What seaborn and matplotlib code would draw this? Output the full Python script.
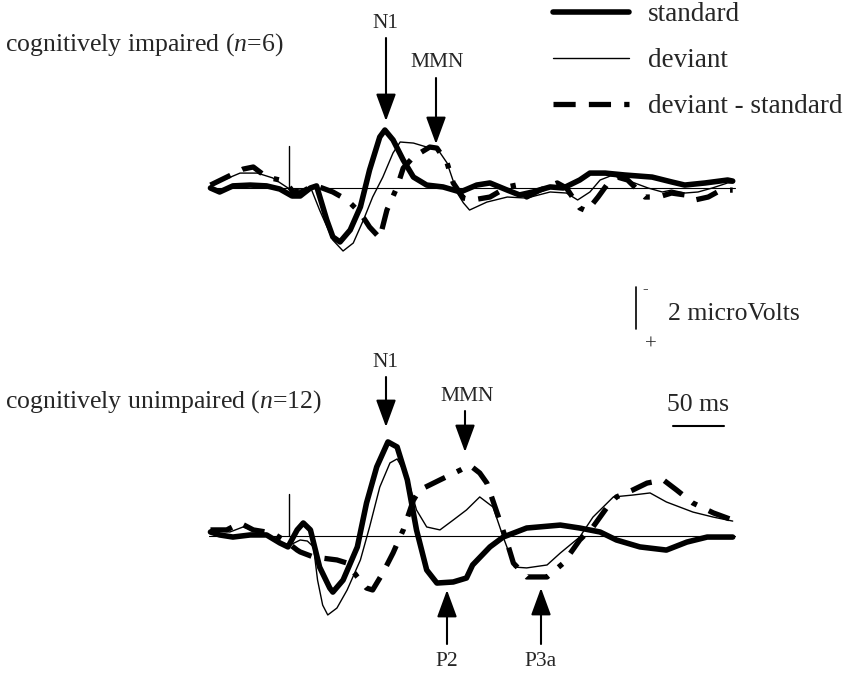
import matplotlib
matplotlib.use("Agg")
import matplotlib.pyplot as plt
import numpy as np
import pandas as pd
import seaborn as sns

# ---------------- data (time in ms, amplitude in microvolts, negative up) ----------------
conditions = ["standard", "deviant", "deviant - standard"]

# cognitively impaired (n=6)
imp_std_t = [-77, -68, -55, -38, -22, -9, 3, 11, 21, 27, 37, 43, 50, 60, 70, 79, 89, 94, 102, 112,
             122, 135, 151, 168, 184, 197, 214, 226, 239, 256, 269, 285, 295, 310, 329, 356, 375,
             388, 408, 430, 435]
imp_std_v = [0, 0.19, -0.10, -0.14, -0.10, 0.05, 0.38, 0.38, 0, -0.10, 1.52, 2.33, 2.57, 2.00, 0.90,
             -0.86, -2.43, -2.76, -2.29, -1.33, -0.52, -0.14, -0.05, 0.19, -0.14, -0.24, 0.10, 0.33,
             0.19, -0.05, 0, -0.38, -0.71, -0.71, -0.62, -0.52, -0.29, -0.14, -0.24, -0.38, -0.33]

imp_dev_t = [-77, -71, -48, -31, -16, -1, 11, 21, 30, 43, 53, 63, 73, 82, 92, 102, 109, 122, 135,
             145, 155, 165, 171, 177, 194, 214, 233, 256, 272, 283, 295, 305, 315, 324, 336, 352,
             366, 375, 388, 401, 415, 430, 435]
imp_dev_v = [-0.10, -0.24, -0.71, -0.71, -0.48, 0, 0.10, -0.05, 1.05, 2.48, 3.00, 2.62, 1.52, 0.43,
             -0.52, -1.67, -2.19, -2.14, -1.95, -1.90, -1.19, 0.24, 0.71, 1.05, 0.67, 0.43, 0.48,
             0.19, 0.24, 0.57, 0.19, -0.38, -0.57, -0.52, -0.29, 0, 0.19, 0.10, 0.24, 0.19, 0,
             -0.24, -0.24]

imp_dif_t = [-77, -61, -45, -35, -22, -9, -1, 4, 11, 21, 27, 43, 57, 70, 79, 89, 96, 106, 112, 122,
             138, 145, 155, 161, 171, 180, 197, 214, 223, 233, 246, 263, 272, 285, 292, 303, 313,
             322, 332, 342, 349, 362, 375, 388, 398, 411, 420, 430, 435]
imp_dif_v = [-0.14, -0.52, -0.90, -1.00, -0.52, -0.38, -0.14, 0.19, 0.24, -0.05, -0.10, 0.19, 0.57,
             1.19, 1.86, 2.38, 1.05, -0.05, -0.95, -1.48, -1.95, -1.90, -1.19, -0.24, 0.48, 0.57,
             0.43, -0.05, -0.14, 0.43, 0.10, -0.24, 0, 0.95, 1.10, 0.43, -0.24, -0.52, -0.38, 0.10,
             0.43, 0.43, 0.24, 0.33, 0.57, 0.43, 0.19, 0.10, 0.10]

# cognitively unimpaired (n=12)
uni_std_t = [-77, -68, -55, -38, -22, -9, -1, 8, 14, 21, 30, 40, 43, 53, 67, 76, 86, 97, 106, 116,
             125, 135, 145, 161, 174, 180, 197, 210, 233, 266, 285, 305, 321, 344, 370, 390, 410, 435]
uni_std_v = [-0.19, -0.05, 0.05, -0.05, -0.05, 0.33, 0.52, -0.29, -0.62, -0.29, 1.48, 2.48, 2.67,
             2.10, 0.52, -1.57, -3.29, -4.48, -4.24, -2.67, -0.29, 1.62, 2.24, 2.19, 2.00, 1.38,
             0.52, 0.05, -0.38, -0.52, -0.38, -0.19, 0.19, 0.52, 0.67, 0.29, 0.05, 0.05]

uni_dev_t = [-77, -58, -45, -28, -9, 1, 11, 18, 24, 28, 33, 38, 47, 57, 70, 79, 89, 99, 106, 116,
             125, 135, 148, 161, 174, 187, 200, 210, 221, 233, 253, 266, 285, 298, 318, 337, 354,
             370, 396, 416, 435]
uni_dev_v = [-0.29, -0.19, -0.43, -0.14, 0.29, 0.43, 0.19, 0.24, 0.52, 2.10, 3.29, 3.76, 3.43, 2.57,
             1.14, -0.43, -2.33, -3.48, -3.67, -2.81, -1.24, -0.43, -0.29, -0.76, -1.24, -1.86,
             -1.38, 0.05, 1.48, 1.52, 1.38, 0.81, 0.05, -0.90, -1.86, -1.95, -2.05, -1.62, -1.14,
             -0.90, -0.71]

uni_dif_t = [-77, -61, -48, -35, -16, -2, 8, 11, 24, 47, 57, 67, 76, 82, 92, 102, 112, 122, 128,
             148, 168, 177, 187, 194, 204, 214, 220, 233, 253, 269, 285, 298, 312, 321, 337, 351,
             367, 380, 396, 416, 435]
uni_dif_v = [-0.29, -0.29, -0.62, -0.29, -0.14, 0.29, 0.67, 0.76, 1.00, 1.14, 1.29, 1.95, 2.48, 2.57,
             1.76, 0.81, -0.29, -1.71, -2.19, -2.67, -3.14, -3.38, -3.00, -2.52, -1.10, 0.33, 1.29,
             1.95, 1.95, 1.29, 0.19, -0.43, -1.38, -1.86, -2.19, -2.52, -2.67, -2.19, -1.57, -1.10,
             -0.76]

baseline_span = [-78, 437]      # ms, extent of the zero line
stim_marker_uv = [0, -2]         # stimulus-onset tick
scale_uv = 2                     # vertical calibration bar (microvolts)
scale_ms = 50                    # horizontal calibration bar (ms)


def long_frame(ts, vs):
    parts = []
    for name, t, v in zip(conditions, ts, vs):
        parts.append(pd.DataFrame({"t": t, "v": v, "condition": name}))
    return pd.concat(parts, ignore_index=True)


df_imp = long_frame([imp_std_t, imp_dev_t, imp_dif_t], [imp_std_v, imp_dev_v, imp_dif_v])
df_uni = long_frame([uni_std_t, uni_dev_t, uni_dif_t], [uni_std_v, uni_dev_v, uni_dif_v])

# ---------------- style ----------------
sns.set_style("white")
plt.rcParams["font.family"] = ["Liberation Serif", "DejaVu Serif"]
plt.rcParams["mathtext.fontset"] = "custom"
plt.rcParams["mathtext.rm"] = "Liberation Serif"
plt.rcParams["mathtext.it"] = "Liberation Serif:italic"

W, H = 854, 691
PX_MS, PX_UV, ONSET = 1.02, 21.0, 289
FS = 18.5
FS_LEG = 19.5
FS_SMALL = 15.5

fig = plt.figure(figsize=(W / 100, H / 100), dpi=100)

sizes = {"standard": 4.0, "deviant": 1.0, "deviant - standard": 3.8}
dashes = {"standard": "", "deviant": "", "deviant - standard": (4.2, 2.5, 4.2, 2.5, 1.0, 2.5)}


def panel(base_px):
    ax = fig.add_axes([0, 0, 1, 1])
    ax.set_xlim(-ONSET / PX_MS, (W - ONSET) / PX_MS)
    ax.set_ylim((H - base_px) / PX_UV, -base_px / PX_UV)
    ax.set_axis_off()
    return ax


ax_top = panel(188)
ax_bot = panel(536)

for ax, df, leg in [(ax_top, df_imp, False), (ax_bot, df_uni, True)]:
    ax.plot(baseline_span, [0, 0], color="black", lw=0.8, zorder=1)
    ax.plot([0, 0], stim_marker_uv, color="black", lw=1.0, zorder=1)
    sns.lineplot(data=df, x="t", y="v", style="condition", size="condition",
                 style_order=conditions, size_order=conditions, sizes=sizes, dashes=dashes,
                 color="black", estimator=None, sort=False, ax=ax, legend=leg, zorder=3)
    for line in ax.get_lines():
        line.set_solid_joinstyle("round")
        line.set_solid_capstyle("round")
    ax.set_xlabel("")
    ax.set_ylabel("")

sns.move_legend(ax_bot, "upper left", bbox_to_anchor=(553 / W, 1 - 2 / H), frameon=False,
                title=None, fontsize=FS_LEG, handlelength=2.8, handletextpad=0.7,
                labelspacing=0.78, borderpad=0, borderaxespad=0)

# calibration bars (in data units of the lower panel)
cal_t = (636 - ONSET) / PX_MS
cal_v0 = (329 - 536) / PX_UV
ax_bot.plot([cal_t, cal_t], [cal_v0, cal_v0 - scale_uv], color="black", lw=1.2)
ms_t0 = (673 - ONSET) / PX_MS
ms_v = (426 - 536) / PX_UV
ax_bot.plot([ms_t0, ms_t0 + scale_ms], [ms_v, ms_v], color="black", lw=1.5)

# ---------------- text & arrows (pixel overlay) ----------------
ov = fig.add_axes([0, 0, 1, 1])
ov.set_xlim(0, W)
ov.set_ylim(H, 0)
ov.set_axis_off()

ov.text(5, 45, r"cognitively impaired ($\mathit{n}$=6)", fontsize=FS, va="center", ha="left")
ov.text(5, 402, r"cognitively unimpaired ($\mathit{n}$=12)", fontsize=FS, va="center", ha="left")

ov.text(645, 289, "-", fontsize=12, va="center", ha="center")
ov.text(668, 314, "2 microVolts", fontsize=FS, va="center", ha="left")
ov.text(651, 345, "+", fontsize=15, va="center", ha="center")
ov.text(698, 405, "50 ms", fontsize=FS, va="center", ha="center")

labels = [("N1", 385, 23), ("MMN", 437, 62), ("N1", 385, 362), ("MMN", 467, 396),
          ("P2", 447, 662), ("P3a", 541, 662)]
for s, x, y in labels:
    ov.text(x, y, s, fontsize=FS_SMALL, va="center", ha="center")

arrows = [(386, 38, 121), (436, 78, 144), (386, 377, 427), (465, 411, 452),
          (447, 644, 590), (541, 644, 588)]
for x, y0, y1 in arrows:
    ov.annotate("", xy=(x, y1), xytext=(x, y0),
                arrowprops=dict(arrowstyle="-|>,head_length=0.6,head_width=0.22", lw=1.5,
                                color="black", shrinkA=0, shrinkB=0, mutation_scale=28))

fig.savefig("out.png", dpi=100)
